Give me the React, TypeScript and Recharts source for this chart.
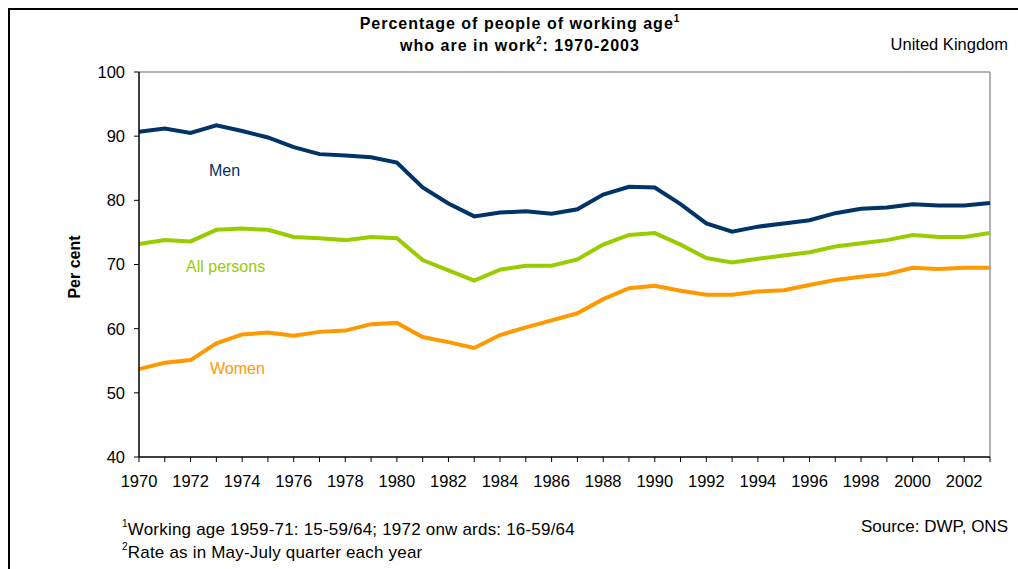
import { CartesianGrid, Line, LineChart, ReferenceLine, XAxis, YAxis } from 'recharts'

const years = [
  1970, 1971, 1972, 1973, 1974, 1975, 1976, 1977, 1978, 1979, 1980, 1981, 1982, 1983, 1984, 1985, 1986,
  1987, 1988, 1989, 1990, 1991, 1992, 1993, 1994, 1995, 1996, 1997, 1998, 1999, 2000, 2001, 2002, 2003,
]
const men = [
  90.7, 91.2, 90.5, 91.7, 90.8, 89.8, 88.3, 87.2, 87.0, 86.7, 85.9, 82.0, 79.5, 77.5, 78.1, 78.3, 77.9,
  78.6, 80.9, 82.1, 82.0, 79.4, 76.4, 75.1, 75.9, 76.4, 76.9, 78.0, 78.7, 78.9, 79.4, 79.2, 79.2, 79.6,
]
const allPersons = [
  73.2, 73.8, 73.6, 75.4, 75.6, 75.4, 74.3, 74.1, 73.8, 74.3, 74.1, 70.7, 69.1, 67.5, 69.2, 69.8, 69.8,
  70.8, 73.1, 74.6, 74.9, 73.1, 71.0, 70.3, 70.9, 71.4, 71.9, 72.8, 73.3, 73.8, 74.6, 74.3, 74.3, 74.9,
]
const women = [
  53.7, 54.7, 55.1, 57.7, 59.1, 59.4, 58.9, 59.5, 59.7, 60.7, 60.9, 58.7, 57.9, 57.0, 59.0, 60.2, 61.3,
  62.4, 64.6, 66.3, 66.7, 65.9, 65.3, 65.3, 65.8, 66.0, 66.8, 67.6, 68.1, 68.5, 69.5, 69.3, 69.5, 69.5,
]
const xLabels = [1970, 1972, 1974, 1976, 1978, 1980, 1982, 1984, 1986, 1988, 1990, 1992, 1994, 1996, 1998, 2000, 2002]
const yTicks = [40, 50, 60, 70, 80, 90, 100]

const data = years.map((year, i) => ({ year, men: men[i], all: allPersons[i], women: women[i] }))

const font = "'Liberation Sans', Arial, sans-serif"
const supStyle = { fontSize: 10, verticalAlign: 'top', lineHeight: '12px' } as const

export default function App() {
  return (
    <div style={{ position: 'absolute', left: 0, top: 0, width: 1018, height: 569, background: '#fff', fontFamily: font, color: '#000' }}>
      <div style={{ position: 'absolute', left: 8, top: 8, width: 1010, height: 561, borderLeft: '2px solid #000', borderTop: '2px solid #000' }} />
      <LineChart width={1018} height={569} data={data} margin={{ top: 72, right: 28, left: 79, bottom: 82 }}>
        <CartesianGrid stroke="none" />
        <XAxis
          dataKey="year"
          type="number"
          domain={[1970, 2003]}
          ticks={years}
          interval={0}
          tickFormatter={(v: number) => (xLabels.includes(v) ? String(v) : '')}
          tick={{ fontSize: 16.5, fill: '#000', fontFamily: font }}
          axisLine={{ stroke: '#000', strokeWidth: 1.5 }}
          tickLine={{ stroke: '#000' }}
          tickSize={5}
          tickMargin={13}
          height={30}
        />
        <YAxis
          domain={[40, 100]}
          ticks={yTicks}
          interval={0}
          tick={{ fontSize: 16.5, fill: '#000', fontFamily: font }}
          axisLine={{ stroke: '#000', strokeWidth: 1.5 }}
          tickLine={{ stroke: '#000' }}
          tickSize={5}
          tickMargin={9}
          width={60}
        />
        <ReferenceLine y={100} stroke="#999" strokeWidth={1.5} />
        <ReferenceLine x={2003} stroke="#999" strokeWidth={1.5} />
        <Line dataKey="men" stroke="#003366" strokeWidth={4} dot={false} isAnimationActive={false} />
        <Line dataKey="all" stroke="#99CC00" strokeWidth={4} dot={false} isAnimationActive={false} />
        <Line dataKey="women" stroke="#FF9900" strokeWidth={4} dot={false} isAnimationActive={false} />
      </LineChart>

      <div style={{ position: 'absolute', left: 210, width: 620, top: 13, textAlign: 'center', fontWeight: 'bold', fontSize: 16, lineHeight: '22px', letterSpacing: 1 }}>
        Percentage of people of working age<sup style={supStyle}>1</sup>
        <br />
        who are in work<sup style={supStyle}>2</sup>: 1970-2003
      </div>
      <div style={{ position: 'absolute', right: 10, top: 35, fontSize: 16.5 }}>United Kingdom</div>
      <div style={{ position: 'absolute', left: 75, top: 267, transform: 'translate(-50%, -50%) rotate(-90deg)', fontWeight: 'bold', fontSize: 16, whiteSpace: 'nowrap' }}>
        Per cent
      </div>

      <div style={{ position: 'absolute', left: 209, top: 162, fontSize: 16, color: '#003366' }}>Men</div>
      <div style={{ position: 'absolute', left: 186, top: 258, fontSize: 16, color: '#99CC00' }}>All persons</div>
      <div style={{ position: 'absolute', left: 210, top: 360, fontSize: 16, color: '#FF9900' }}>Women</div>

      <div style={{ position: 'absolute', left: 122, top: 518, fontSize: 17, lineHeight: '23px', letterSpacing: 0.2 }}>
        <sup style={supStyle}>1</sup>Working age 1959-71: 15-59/64; 1972 onw ards: 16-59/64
        <br />
        <sup style={supStyle}>2</sup>Rate as in May-July quarter each year
      </div>
      <div style={{ position: 'absolute', right: 10, top: 515, fontSize: 17, lineHeight: '24px' }}>Source: DWP, ONS</div>
    </div>
  )
}
